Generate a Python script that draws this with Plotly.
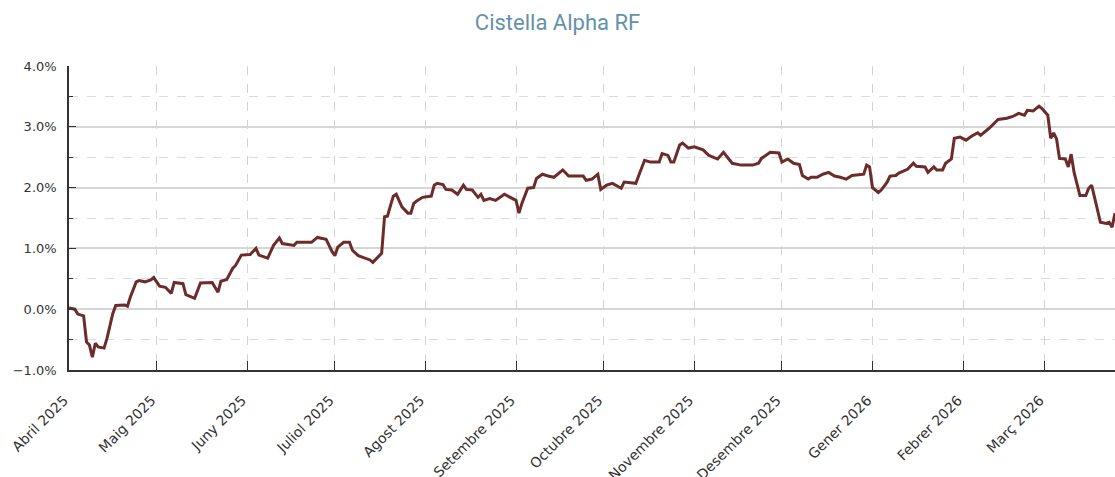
import plotly.graph_objects as go

dates = [
    "2025-04-01", "2025-04-03", "2025-04-04", "2025-04-06", "2025-04-07", "2025-04-08", "2025-04-09",
    "2025-04-10", "2025-04-11", "2025-04-13", "2025-04-14", "2025-04-16", "2025-04-17", "2025-04-20",
    "2025-04-21", "2025-04-22", "2025-04-24", "2025-04-25", "2025-04-27", "2025-04-29", "2025-04-30",
    "2025-05-02", "2025-05-04", "2025-05-06", "2025-05-07", "2025-05-10", "2025-05-11", "2025-05-14",
    "2025-05-16", "2025-05-20", "2025-05-22", "2025-05-23", "2025-05-25", "2025-05-27", "2025-05-28",
    "2025-05-30", "2025-06-02", "2025-06-04", "2025-06-05", "2025-06-08", "2025-06-10", "2025-06-12",
    "2025-06-13", "2025-06-17", "2025-06-18", "2025-06-23", "2025-06-25", "2025-06-27", "2025-06-28",
    "2025-06-30", "2025-07-01", "2025-07-02", "2025-07-04", "2025-07-06", "2025-07-07", "2025-07-09",
    "2025-07-11", "2025-07-13", "2025-07-14", "2025-07-16", "2025-07-17", "2025-07-18", "2025-07-19",
    "2025-07-20", "2025-07-21", "2025-07-22", "2025-07-24", "2025-07-26", "2025-07-27", "2025-07-28",
    "2025-07-29", "2025-07-31", "2025-08-03", "2025-08-04", "2025-08-05", "2025-08-07", "2025-08-08",
    "2025-08-10", "2025-08-12", "2025-08-14", "2025-08-15", "2025-08-17", "2025-08-19", "2025-08-20",
    "2025-08-21", "2025-08-23", "2025-08-25", "2025-08-28", "2025-08-30", "2025-09-01", "2025-09-02",
    "2025-09-03", "2025-09-05", "2025-09-07", "2025-09-08", "2025-09-10", "2025-09-12", "2025-09-14",
    "2025-09-17", "2025-09-19", "2025-09-24", "2025-09-25", "2025-09-27", "2025-09-29", "2025-09-30",
    "2025-10-02", "2025-10-04", "2025-10-07", "2025-10-08", "2025-10-12", "2025-10-13", "2025-10-15",
    "2025-10-17", "2025-10-20", "2025-10-21", "2025-10-23", "2025-10-24", "2025-10-25", "2025-10-27",
    "2025-10-28", "2025-10-30", "2025-11-01", "2025-11-04", "2025-11-06", "2025-11-09", "2025-11-11",
    "2025-11-14", "2025-11-17", "2025-11-21", "2025-11-23", "2025-11-24", "2025-11-27", "2025-11-30",
    "2025-12-01", "2025-12-03", "2025-12-05", "2025-12-07", "2025-12-08", "2025-12-10", "2025-12-11",
    "2025-12-13", "2025-12-15", "2025-12-17", "2025-12-19", "2025-12-21", "2025-12-23", "2025-12-25",
    "2025-12-29", "2025-12-30", "2025-12-31", "2026-01-01", "2026-01-03", "2026-01-04", "2026-01-06",
    "2026-01-07", "2026-01-09", "2026-01-10", "2026-01-13", "2026-01-15", "2026-01-16", "2026-01-19",
    "2026-01-20", "2026-01-22", "2026-01-23", "2026-01-25", "2026-01-26", "2026-01-28", "2026-01-29",
    "2026-01-31", "2026-02-02", "2026-02-04", "2026-02-06", "2026-02-07", "2026-02-10", "2026-02-13",
    "2026-02-16", "2026-02-18", "2026-02-20", "2026-02-22", "2026-02-23", "2026-02-25", "2026-02-27",
    "2026-02-28", "2026-03-02", "2026-03-03", "2026-03-04", "2026-03-05", "2026-03-06", "2026-03-08",
    "2026-03-09", "2026-03-10", "2026-03-11", "2026-03-13", "2026-03-15", "2026-03-16", "2026-03-17",
    "2026-03-18", "2026-03-20", "2026-03-22", "2026-03-23", "2026-03-24", "2026-03-25",
]

returns_pct = [
    0.02, 0.00, -0.08, -0.11, -0.54, -0.59, -0.79,
    -0.56, -0.62, -0.64, -0.48, -0.07, 0.06, 0.07,
    0.05, 0.20, 0.45, 0.47, 0.45, 0.48, 0.52,
    0.38, 0.36, 0.26, 0.44, 0.42, 0.24, 0.18,
    0.43, 0.44, 0.28, 0.46, 0.49, 0.67, 0.72,
    0.89, 0.90, 1.00, 0.89, 0.84, 1.05, 1.17,
    1.08, 1.05, 1.10, 1.10, 1.18, 1.16, 1.15,
    0.95, 0.88, 1.02, 1.10, 1.10, 0.97, 0.88,
    0.84, 0.81, 0.77, 0.86, 0.92, 1.52, 1.53,
    1.70, 1.86, 1.89, 1.68, 1.58, 1.58, 1.74,
    1.78, 1.84, 1.86, 2.04, 2.07, 2.05, 1.97,
    1.96, 1.89, 2.04, 1.97, 1.96, 1.84, 1.89,
    1.79, 1.82, 1.79, 1.89, 1.84, 1.79, 1.58,
    1.74, 1.99, 2.00, 2.15, 2.22, 2.19, 2.17,
    2.29, 2.19, 2.19, 2.12, 2.14, 2.22, 1.97,
    2.04, 2.07, 1.99, 2.09, 2.07, 2.20, 2.45,
    2.42, 2.42, 2.56, 2.53, 2.42, 2.42, 2.70,
    2.73, 2.65, 2.67, 2.62, 2.53, 2.47, 2.58,
    2.40, 2.37, 2.37, 2.40, 2.48, 2.58, 2.57,
    2.42, 2.47, 2.40, 2.38, 2.20, 2.14, 2.17,
    2.17, 2.22, 2.25, 2.19, 2.17, 2.14, 2.20,
    2.22, 2.37, 2.34, 2.00, 1.92, 1.96, 2.09,
    2.19, 2.20, 2.24, 2.30, 2.40, 2.35, 2.34,
    2.25, 2.34, 2.29, 2.29, 2.40, 2.47, 2.81,
    2.83, 2.78, 2.85, 2.90, 2.86, 2.98, 3.12,
    3.14, 3.17, 3.22, 3.19, 3.27, 3.26, 3.34,
    3.30, 3.19, 2.81, 2.90, 2.80, 2.48, 2.47,
    2.34, 2.55, 2.25, 1.87, 1.87, 1.99, 2.04,
    1.84, 1.43, 1.41, 1.43, 1.35, 1.58,
]

month_ticks = [
    "2025-04-01", "2025-05-01", "2025-06-01", "2025-07-01", "2025-08-01", "2025-09-01",
    "2025-10-01", "2025-11-01", "2025-12-01", "2026-01-01", "2026-02-01", "2026-03-01",
]
month_labels = [
    "Abril 2025", "Maig 2025", "Juny 2025", "Juliol 2025", "Agost 2025", "Setembre 2025",
    "Octubre 2025", "Novembre 2025", "Desembre 2025", "Gener 2026", "Febrer 2026", "Març 2026",
]

title_text = "Cistella Alpha RF"

fig = go.Figure()
fig.add_trace(go.Scatter(
    x=dates, y=returns_pct, mode="lines",
    line=dict(color="#6d2b2b", width=3),
    hoverinfo="x+y", showlegend=False,
))

y_font = dict(family="DejaVu Sans", size=13, color="#333333")
x_font = dict(family="DejaVu Sans", size=14, color="#333333")

fig.update_layout(
    width=1115, height=477,
    margin=dict(l=69, r=0, t=66, b=107, pad=0, autoexpand=False),
    paper_bgcolor="white", plot_bgcolor="white",
    title=dict(text=title_text, x=0.5, xref="container", xanchor="center",
               y=1 - 22 / 477, yref="container", yanchor="middle",
               font=dict(family="Roboto", size=22, color="#6592aa")),
    xaxis=dict(
        range=["2025-04-01", "2026-03-25"], automargin=False,
        tickmode="array", tickvals=month_ticks, ticktext=month_labels,
        tickangle=-45, ticks="inside", ticklen=9, tickcolor="#333333", tickwidth=1,
        showgrid=True, gridcolor="#d3d3d3", griddash="dash", gridwidth=1,
        showline=True, linecolor="#333333", linewidth=1.5,
        zeroline=False, tickfont=x_font, ticklabelstandoff=15, ticklabelshift=-5,
    ),
    yaxis=dict(
        range=[-1, 4], tick0=-1, dtick=1, tickformat=".1f", ticksuffix="%", automargin=False,
        ticks="inside", ticklen=7, tickcolor="#333333", tickwidth=1,
        showgrid=True, gridcolor="#d6d6d6", gridwidth=1.5,
        minor=dict(dtick=0.5, tick0=-1, showgrid=True, gridcolor="#dcdcdc", griddash="dash",
                   gridwidth=1, ticks="inside", ticklen=4, tickcolor="#333333"),
        showline=True, linecolor="#333333", linewidth=1.5,
        zeroline=False, tickfont=y_font, ticklabelstandoff=8,
    ),
)

fig.write_html(
    "out.html",
    config={"displayModeBar": False},
    post_script="document.body.style.margin='0';document.body.style.overflow='hidden';",
)
